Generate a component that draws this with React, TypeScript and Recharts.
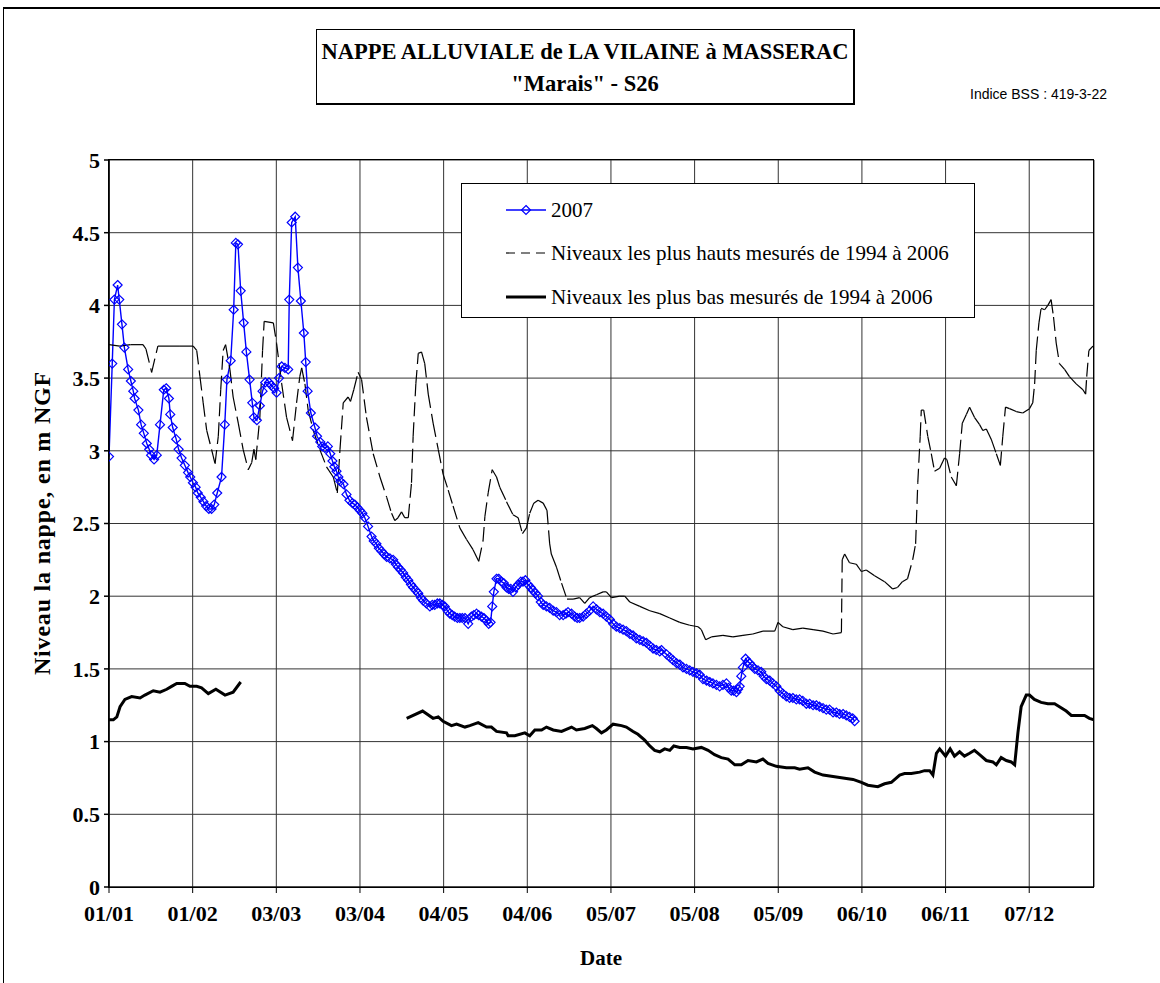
import React from 'react';
import { LineChart, Line, XAxis, YAxis, CartesianGrid } from 'recharts';

const serif = '"Liberation Serif", "Times New Roman", serif';

// x axis: day of year 2007, ticks every 31 days
const tickDays = [0, 31, 62, 93, 124, 155, 186, 217, 248, 279, 310, 341];
const tickLabels = ['01/01', '01/02', '03/03', '03/04', '04/05', '04/06', '05/07', '05/08', '05/09', '06/10', '06/11', '07/12'];
const niveauTicks = [0, 0.5, 1, 1.5, 2, 2.5, 3, 3.5, 4, 4.5, 5];

// 2007
const days2007 = [
  0, 1.2, 2.0, 3.2, 3.8, 4.8, 5.7, 7.1, 8.1, 9.0, 9.5, 10.9, 11.9, 12.9, 14.0, 14.9, 15.6, 16.7, 17.7, 18.9,
  20.3, 21.2, 22.2, 22.7, 23.6, 24.9, 25.8, 26.9, 28.1, 29.3, 30.1, 31.1, 32.1, 32.9, 34, 35, 36, 37, 38, 39,
  40.1, 41.7, 42.9, 43.7, 45.1, 46.2, 47.0, 47.8, 48.8, 49.9, 50.9, 52.1, 53.1, 53.7, 54.8, 55.9, 56.9, 57.9, 59.3, 60.1,
  61.2, 62.1, 63.0, 64.0, 65.2, 66.4, 66.8, 67.7, 69.0, 70.0, 71.1, 72.2, 72.9, 73.6, 74.8, 76.3, 77.1, 78.3, 79.0, 80.0,
  81.1, 82.0, 82.8, 83.5, 84.3, 85.0, 85.7, 86.9, 88.0, 89.1, 90.2, 91.1, 92.0, 93.0, 93.9, 94.8, 96.0, 97.3, 98.1, 99.1,
  100.0, 101.0, 101.9, 102.9, 104.1, 105.3, 106.3, 107.1, 108.1, 109.0, 110.0, 110.9, 111.9, 112.7, 113.7, 114.6, 115.6, 116.4, 117.6, 118.9,
  119.8, 120.7, 121.7, 122.6, 123.5, 124.4, 125.4, 126.3, 127.2, 128.1, 129.1, 130.0, 130.9, 131.9, 133.1, 134.3, 135.2, 136.2, 137.0, 138.0,
  138.9, 139.9, 140.7, 141.4, 142.0, 142.6, 143.6, 144.4, 145.4, 146.3, 147.3, 148.1, 148.9, 149.7, 150.7, 151.6, 152.6, 153.4, 154.3, 155.3,
  156.3, 157.1, 158.1, 159.0, 160.0, 160.9, 162.1, 163.3, 164.6, 165.8, 167.0, 168.3, 169.3, 170.1, 171.4, 172.6, 173.5, 174.4, 175.7, 176.9,
  178.1, 179.4, 180.6, 181.9, 183.1, 184.3, 185.6, 186.8, 188.0, 189.3, 190.5, 191.7, 193.0, 194.2, 195.4, 196.7, 197.9, 199.1, 200.4, 201.6,
  202.8, 204.1, 204.7, 206.6, 207.8, 209.0, 210.3, 211.5, 212.7, 214.0, 215.2, 216.4, 217.7, 218.9, 220.1, 221.4, 222.6, 223.8, 225.1, 226.3,
  227.5, 228.8, 229.6, 230.6, 231.5, 232.5, 233.1, 233.7, 234.3, 234.9, 235.9, 236.7, 237.4, 238.3, 239.3, 240.5, 241.7, 242.6, 243.6, 244.8,
  246.0, 247.3, 248.5, 249.7, 251.0, 252.2, 253.4, 254.7, 255.9, 257.1, 258.4, 259.6, 260.9, 262.1, 263.3, 264.6, 265.8, 267.0, 268.3, 269.5,
  270.7, 272.0, 273.2, 274.4, 275.6, 276.3,
];
const niveaux2007 = [
  2.96, 3.60, 4.04, 4.14, 4.04, 3.87, 3.71, 3.56, 3.48, 3.41, 3.36, 3.28, 3.18, 3.12, 3.05, 3.01, 2.97, 2.94, 2.97, 3.18,
  3.42, 3.43, 3.36, 3.25, 3.16, 3.08, 3.01, 2.95, 2.90, 2.85, 2.82, 2.78, 2.75, 2.71, 2.68, 2.65, 2.62, 2.60, 2.60, 2.63,
  2.71, 2.82, 3.18, 3.49, 3.62, 3.97, 4.43, 4.42, 4.10, 3.88, 3.68, 3.49, 3.33, 3.23, 3.21, 3.31, 3.41, 3.47, 3.47, 3.45,
  3.43, 3.40, 3.50, 3.58, 3.57, 3.56, 4.04, 4.57, 4.61, 4.26, 4.03, 3.81, 3.61, 3.41, 3.26, 3.16, 3.10, 3.06, 3.03, 3.02,
  3.03, 2.98, 2.93, 2.89, 2.86, 2.82, 2.79, 2.77, 2.70, 2.66, 2.64, 2.63, 2.61, 2.59, 2.57, 2.54, 2.48, 2.41, 2.38, 2.36,
  2.33, 2.31, 2.29, 2.27, 2.26, 2.25, 2.22, 2.20, 2.18, 2.16, 2.13, 2.11, 2.08, 2.06, 2.04, 2.02, 1.99, 1.97, 1.95, 1.93,
  1.94, 1.94, 1.95, 1.95, 1.94, 1.93, 1.90, 1.88, 1.87, 1.86, 1.85, 1.85, 1.85, 1.85, 1.81, 1.86, 1.87, 1.88, 1.87, 1.86,
  1.85, 1.83, 1.81, 1.82, 1.93, 2.03, 2.12, 2.12, 2.10, 2.09, 2.06, 2.05, 2.05, 2.03, 2.06, 2.08, 2.10, 2.10, 2.11, 2.08,
  2.06, 2.04, 2.02, 2.00, 1.96, 1.94, 1.93, 1.92, 1.90, 1.89, 1.87, 1.87, 1.88, 1.89, 1.88, 1.86, 1.85, 1.85, 1.86, 1.88,
  1.90, 1.93, 1.91, 1.89, 1.88, 1.86, 1.84, 1.81, 1.79, 1.78, 1.77, 1.76, 1.74, 1.73, 1.71, 1.70, 1.69, 1.68, 1.66, 1.64,
  1.63, 1.62, 1.63, 1.60, 1.58, 1.56, 1.54, 1.53, 1.51, 1.50, 1.49, 1.48, 1.47, 1.46, 1.43, 1.42, 1.41, 1.40, 1.39, 1.38,
  1.39, 1.40, 1.37, 1.35, 1.35, 1.34, 1.36, 1.38, 1.45, 1.51, 1.57, 1.55, 1.54, 1.52, 1.50, 1.49, 1.48, 1.45, 1.43, 1.42,
  1.40, 1.38, 1.35, 1.33, 1.31, 1.30, 1.30, 1.29, 1.29, 1.28, 1.26, 1.26, 1.25, 1.25, 1.24, 1.23, 1.22, 1.22, 1.20, 1.20,
  1.19, 1.19, 1.18, 1.17, 1.16, 1.14,
];

// highest levels 1994-2006
const daysHauts = [
  0, 4, 8, 12.6, 13.7, 15.8, 18.1, 22.6, 26.3, 31.2, 32.5, 33.7, 34.9, 36.2, 38.0, 39.3, 40.5, 41.4, 42.3, 43.2,
  44.8, 46.0, 47.9, 49.7, 51.6, 52.9, 53.7, 54.4, 55.9, 56.9, 57.5, 60.9, 62.1, 64.0, 65.8, 68.0, 69.5, 70.7, 71.4, 72.6,
  73.8, 75.7, 78.1, 80.6, 83.1, 84.6, 85.6, 86.8, 88.6, 89.5, 90.7, 92.3, 93.6, 95.4, 97.9, 100.4, 102.9, 104.7, 105.9, 107.1,
  108.4, 109.6, 110.9, 112.1, 112.7, 113.7, 114.6, 115.8, 117.0, 118.3, 120.1, 122.0, 123.8, 125.7, 127.5, 130.0, 132.5, 134.9, 137.0, 138.6,
  139.3, 140.5, 142.0, 143.6, 144.8, 147.3, 149.7, 151.6, 153.2, 154.7, 155.9, 157.4, 159.0, 160.9, 162.3, 163.3, 163.9, 165.8, 167.7, 169.7,
  172.0, 174.4, 176.3, 178.1, 180.6, 183.1, 184.3, 186.2, 189.3, 191.1, 193.0, 196.7, 200.4, 204.1, 207.8, 211.5, 215.2, 218.3, 219.5, 221.1,
  223.2, 227.5, 231.2, 234.9, 238.6, 242.3, 246.7, 247.9, 249.7, 253.4, 257.1, 260.9, 264.6, 268.3, 271.4, 271.7, 272.6, 274.4, 276.9, 278.8,
  280.6, 283.7, 287.4, 290.4, 292.2, 294.0, 295.9, 297.8, 298.9, 299.7, 300.6, 301.0, 301.9, 303.4, 304.7, 305.9, 307.8, 309.6, 310.5, 312.1,
  314.0, 315.2, 316.2, 317.7, 318.9, 320.7, 322.6, 323.8, 325.1, 326.9, 328.8, 330.3, 331.2, 332.2, 333.7, 336.2, 338.6, 341.1, 342.3, 343.0,
  343.6, 344.6, 345.4, 346.7, 347.9, 349.1, 350.0, 351.0, 352.2, 354.1, 355.9, 358.4, 360.9, 361.9, 362.3, 363.1, 364.6, 365,
];
const niveauxHauts = [
  3.73, 3.72, 3.73, 3.73, 3.70, 3.54, 3.72, 3.72, 3.72, 3.72, 3.69, 3.51, 3.33, 3.14, 3.01, 2.91, 3.10, 3.42, 3.69, 3.73,
  3.56, 3.37, 3.19, 3.01, 2.87, 2.92, 3.01, 2.94, 3.23, 3.69, 3.89, 3.88, 3.74, 3.46, 3.23, 3.07, 3.33, 3.51, 3.57, 3.46,
  3.28, 3.14, 3.01, 2.89, 2.82, 2.71, 3.01, 3.33, 3.37, 3.34, 3.42, 3.54, 3.49, 3.23, 2.98, 2.82, 2.68, 2.57, 2.52, 2.54,
  2.58, 2.54, 2.54, 2.78, 3.10, 3.46, 3.67, 3.68, 3.60, 3.39, 3.19, 3.01, 2.84, 2.73, 2.62, 2.47, 2.39, 2.32, 2.24, 2.38,
  2.55, 2.71, 2.87, 2.82, 2.75, 2.65, 2.56, 2.54, 2.43, 2.47, 2.57, 2.64, 2.66, 2.64, 2.59, 2.36, 2.29, 2.20, 2.09, 1.98,
  1.98, 1.99, 1.95, 1.99, 2.01, 2.03, 2.03, 1.99, 2.00, 2.00, 1.96, 1.93, 1.90, 1.88, 1.85, 1.82, 1.80, 1.79, 1.77, 1.70,
  1.72, 1.73, 1.72, 1.73, 1.74, 1.76, 1.76, 1.82, 1.79, 1.77, 1.78, 1.77, 1.76, 1.74, 1.75, 2.25, 2.29, 2.23, 2.22, 2.17,
  2.18, 2.14, 2.10, 2.05, 2.06, 2.10, 2.12, 2.25, 2.36, 2.78, 3.10, 3.28, 3.28, 3.10, 2.98, 2.86, 2.88, 2.95, 2.94, 2.82,
  2.76, 2.98, 3.19, 3.25, 3.30, 3.23, 3.18, 3.14, 3.15, 3.08, 2.98, 2.90, 3.10, 3.30, 3.29, 3.27, 3.26, 3.29, 3.33, 3.46,
  3.69, 3.88, 3.98, 3.97, 4.00, 4.04, 3.92, 3.74, 3.60, 3.56, 3.51, 3.46, 3.42, 3.39, 3.51, 3.69, 3.72, 3.72,
];

// lowest levels 1994-2006 (no value between mid-February and mid-April)
const daysBas = [
  0, 1.6, 2.9, 4.1, 5.9, 8.4, 11.5, 13.3, 16.4, 18.9, 21.4, 23.2, 25.1, 28.1, 30.0, 32.5, 34.3, 36.8, 39.6, 43.0,
  46.0, 48.8, 80, 110.3, 116.2, 120.1, 122.0, 123.8, 126.9, 128.8, 131.9, 133.7, 136.8, 139.9, 141.7, 143.6, 147.3, 147.9, 150.4, 154.1,
  155.9, 157.8, 160.3, 162.1, 164.6, 167.7, 171.4, 173.2, 176.3, 179.1, 180.6, 182.5, 184.3, 186.8, 189.9, 191.7, 194.2, 196.0, 198.5, 200.4,
  202.2, 204.1, 205.9, 207.8, 209.3, 211.5, 214.0, 216.4, 219.5, 222.0, 224.4, 226.9, 229.4, 231.9, 234.3, 236.8, 239.9, 242.3, 244.2, 247.3,
  251.0, 254.1, 255.9, 259.0, 261.5, 264.6, 268.3, 272.0, 275.7, 278.8, 281.2, 284.9, 287.4, 289.9, 293.0, 294.8, 297.3, 300.4, 302.2, 304.1,
  305.3, 306.6, 307.8, 310.0, 311.7, 313.3, 315.2, 317.0, 318.9, 320.7, 322.6, 325.1, 327.5, 328.8, 330.6, 332.5, 334.3, 335.6, 336.8, 338.0,
  339.9, 341.1, 342.9, 345.4, 347.9, 350.4, 352.2, 354.7, 356.6, 359.6, 361.5, 363.3, 365,
];
const niveauxBas: (number | null)[] = [
  1.15, 1.15, 1.17, 1.24, 1.29, 1.31, 1.30, 1.32, 1.35, 1.34, 1.36, 1.38, 1.40, 1.40, 1.38, 1.38, 1.37, 1.33, 1.36, 1.32,
  1.34, 1.41, null, 1.16, 1.21, 1.16, 1.17, 1.14, 1.11, 1.12, 1.10, 1.11, 1.13, 1.10, 1.10, 1.07, 1.06, 1.04, 1.04, 1.06,
  1.04, 1.08, 1.08, 1.10, 1.08, 1.07, 1.10, 1.08, 1.09, 1.11, 1.09, 1.06, 1.08, 1.12, 1.11, 1.10, 1.07, 1.05, 1.01, 0.97,
  0.94, 0.93, 0.95, 0.94, 0.97, 0.96, 0.96, 0.95, 0.96, 0.94, 0.91, 0.89, 0.88, 0.84, 0.84, 0.87, 0.86, 0.88, 0.85, 0.83,
  0.82, 0.82, 0.81, 0.82, 0.79, 0.77, 0.76, 0.75, 0.74, 0.72, 0.70, 0.69, 0.71, 0.72, 0.77, 0.78, 0.78, 0.79, 0.80, 0.80,
  0.77, 0.92, 0.95, 0.90, 0.95, 0.90, 0.93, 0.90, 0.92, 0.94, 0.91, 0.87, 0.86, 0.84, 0.89, 0.87, 0.86, 0.84, 1.06, 1.24,
  1.32, 1.32, 1.29, 1.27, 1.26, 1.26, 1.24, 1.21, 1.18, 1.18, 1.18, 1.16, 1.15,
];

const serie2007 = days2007.map((d, i) => ({ d, v: niveaux2007[i] }));
const serieHauts = daysHauts.map((d, i) => ({ d, v: niveauxHauts[i] }));
const serieBas = daysBas.map((d, i) => ({ d, v: niveauxBas[i] }));

const Diamond = (p: any) => {
  const { cx, cy, index } = p;
  if (cx == null || cy == null) return <g key={`dm${index}`} />;
  const r = 4.5;
  return (
    <polygon
      key={`dm${index}`}
      points={`${cx},${cy - r} ${cx + r},${cy} ${cx},${cy + r} ${cx - r},${cy}`}
      fill="none"
      stroke="#0000ff"
      strokeWidth={1.2}
    />
  );
};

// the dash pattern restarts on every segment, like the original drawing
const makeDashedSegments = () => {
  let prev: { x: number; y: number } | null = null;
  return (p: any) => {
    const { cx, cy, index } = p;
    const key = `hs${index}`;
    if (index === 0) prev = null;
    if (cx == null || cy == null) {
      prev = null;
      return <g key={key} />;
    }
    const el = prev ? (
      <line key={key} x1={prev.x} y1={prev.y} x2={cx} y2={cy} stroke="#000" strokeWidth={1.2} strokeDasharray="14 6" />
    ) : (
      <g key={key} />
    );
    prev = { x: cx, y: cy };
    return el;
  };
};
const hautsSegments = makeDashedSegments();

const tickFont = { fontFamily: serif, fontWeight: 700, fontSize: 22, fill: '#000' };

export default function App() {
  return (
    <div style={{ position: 'absolute', left: 0, top: 0, width: 1160, height: 983, background: '#fff', overflow: 'hidden', fontFamily: serif }}>
      <div style={{ position: 'absolute', left: 3, top: 7, width: 1170, height: 990, borderTop: '2px solid #000', borderLeft: '1px solid #000' }} />
      <div style={{ position: 'absolute', left: 0, top: 0 }}>
        <LineChart width={1160} height={983} margin={{ top: 160, right: 66, bottom: 56, left: 49 }}>
          <CartesianGrid stroke="#333" strokeWidth={1} />
          <XAxis
            type="number"
            dataKey="d"
            domain={[0, 365]}
            ticks={tickDays}
            tickFormatter={(v: number) => tickLabels[tickDays.indexOf(v)] ?? ''}
            tick={tickFont}
            tickSize={6}
            tickMargin={12}
            height={40}
            stroke="#000"
            allowDataOverflow
          />
          <YAxis
            type="number"
            domain={[0, 5]}
            ticks={niveauTicks}
            tick={tickFont}
            tickSize={5}
            tickMargin={4}
            width={60}
            stroke="#000"
            strokeWidth={1.5}
          />
          <Line data={serieBas} dataKey="v" stroke="#000" strokeWidth={3} dot={false} activeDot={false} connectNulls={false} isAnimationActive={false} />
          <Line data={serieHauts} dataKey="v" stroke="none" dot={hautsSegments} activeDot={false} isAnimationActive={false} />
          <Line data={serie2007} dataKey="v" stroke="#0000ff" strokeWidth={1.4} dot={Diamond} activeDot={false} isAnimationActive={false} />
        </LineChart>
      </div>

      {/* plot frame */}
      <div style={{ position: 'absolute', left: 108, top: 159, width: 986, height: 729, border: '1px solid #000', boxSizing: 'border-box', pointerEvents: 'none' }} />

      {/* title */}
      <div
        style={{
          position: 'absolute', left: 316, top: 29, width: 539, height: 76, boxSizing: 'border-box',
          border: '1px solid #000', borderRight: '2px solid #000', borderBottom: '2px solid #000', background: '#fff',
          fontWeight: 700, fontSize: 22.5, textAlign: 'center', lineHeight: '32px', paddingTop: 6, whiteSpace: 'nowrap',
        }}
      >
        <div>NAPPE ALLUVIALE de LA VILAINE à MASSERAC</div>
        <div>"Marais" - S26</div>
      </div>
      <div style={{ position: 'absolute', left: 970, top: 86, fontFamily: '"Liberation Sans", Arial, sans-serif', fontSize: 14, whiteSpace: 'nowrap' }}>
        Indice BSS : 419-3-22
      </div>

      {/* legend */}
      <div style={{ position: 'absolute', left: 461, top: 183, width: 514, height: 135, boxSizing: 'border-box', border: '1px solid #000', background: '#fff', fontSize: 21 }}>
        <svg width={514} height={135} style={{ position: 'absolute', left: 0, top: 0 }}>
          <line x1={44} y1={26} x2={84} y2={26} stroke="#0000ff" strokeWidth={1.4} />
          <polygon points="64,21.5 68.5,26 64,30.5 59.5,26" fill="none" stroke="#0000ff" strokeWidth={1.2} />
          <line x1={44} y1={69} x2={84} y2={69} stroke="#000" strokeWidth={1.2} strokeDasharray="9 6" />
          <line x1={44} y1={113} x2={84} y2={113} stroke="#000" strokeWidth={3} />
        </svg>
        <div style={{ position: 'absolute', left: 89, top: 13, lineHeight: '26px', whiteSpace: 'nowrap' }}>2007</div>
        <div style={{ position: 'absolute', left: 89, top: 56, lineHeight: '26px', whiteSpace: 'nowrap' }}>Niveaux les plus hauts mesurés de 1994 à 2006</div>
        <div style={{ position: 'absolute', left: 89, top: 100, lineHeight: '26px', whiteSpace: 'nowrap' }}>Niveaux les plus bas mesurés de 1994 à 2006</div>
      </div>

      {/* axis titles */}
      <div style={{ position: 'absolute', left: 42, top: 523, transform: 'translate(-50%, -50%) rotate(-90deg)', fontWeight: 700, fontSize: 24, letterSpacing: 0.8, whiteSpace: 'nowrap' }}>
        Niveau la nappe, en m NGF
      </div>
      <div style={{ position: 'absolute', left: 601, top: 958, transform: 'translate(-50%, -50%)', fontWeight: 700, fontSize: 21, whiteSpace: 'nowrap' }}>
        Date
      </div>
    </div>
  );
}
